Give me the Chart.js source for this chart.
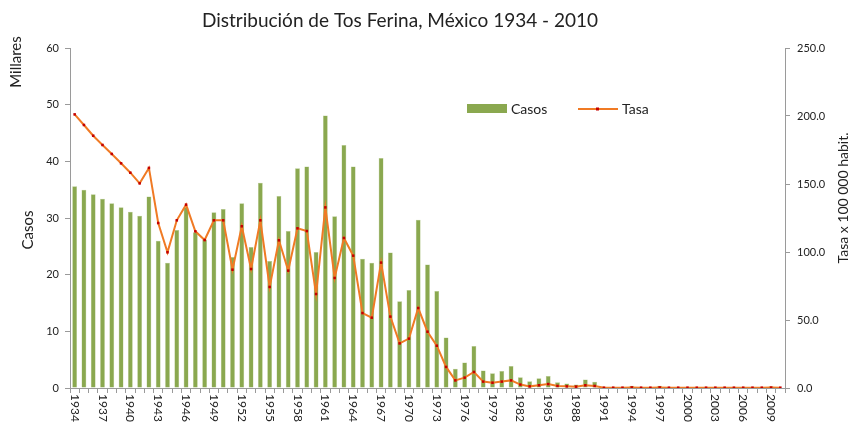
<!DOCTYPE html>
<html>
<head>
<meta charset="utf-8">
<script src="https://cdn.jsdelivr.net/npm/chart.js@4.4.1/dist/chart.umd.min.js"></script>
<style>
  body { margin: 0; background: #fff; }
  #wrap { width: 855px; height: 422px; }
</style>
</head>
<body>
<div id="wrap"><canvas id="tosChart" width="855" height="422"></canvas></div>
<script>
// years 1934 - 2010
const years = [];
for (let y = 1934; y <= 2010; y++) years.push(String(y));

// casos, in thousands
const casos = [
  35.6, 35.0, 34.2, 33.4, 32.6, 31.9, 31.1, 30.4, 33.8, 26.0,
  22.1, 27.9, 31.9, 27.5, 26.2, 31.0, 31.6, 23.1, 32.6, 24.9,
  36.2, 22.4, 33.9, 27.7, 38.8, 39.1, 24.0, 48.1, 30.3, 42.9,
  39.1, 22.8, 22.1, 40.6, 23.9, 15.3, 17.3, 29.7, 21.8, 17.1,
  8.9, 3.4, 4.5, 7.4, 3.1, 2.6, 3.0, 3.9, 1.9, 1.2,
  1.7, 2.1, 1.0, 0.8, 0.6, 1.5, 1.1, 0.1, 0.1, 0.1,
  0.4, 0.1, 0.1, 0.4, 0.1, 0.1, 0.1, 0.1, 0.1, 0.1,
  0.1, 0.1, 0.1, 0.1, 0.1, 0.3, 0.1
];

// tasa x 100 000 habitantes
const tasa = [
  201.2, 193.4, 185.5, 178.7, 172.1, 165.2, 158.3, 150.5, 161.8, 121.3,
  99.8, 123.3, 134.8, 115.2, 108.8, 123.3, 123.3, 87.0, 118.9, 87.5,
  123.3, 74.3, 108.6, 86.3, 117.4, 115.4, 69.1, 132.8, 80.9, 110.3,
  97.3, 55.1, 51.7, 92.2, 52.5, 32.8, 36.3, 58.8, 41.4, 31.1,
  15.5, 5.6, 7.6, 11.8, 4.7, 3.9, 4.7, 5.6, 2.5, 1.2,
  2.0, 2.9, 1.5, 1.2, 1.0, 2.0, 1.5, 0.2, 0.2, 0.2,
  0.4, 0.2, 0.2, 0.4, 0.2, 0.2, 0.2, 0.2, 0.2, 0.2,
  0.2, 0.2, 0.2, 0.2, 0.2, 0.3, 0.2
];

const leftTicks = [0, 10, 20, 30, 40, 50, 60];
const rightTicks = [0, 50, 100, 150, 200, 250];

const FONT = 'Lato, "Open Sans", sans-serif';
const GREEN = '#8aa84f';
const ORANGE = '#f07a24';
const RED = '#c40000';

// texts drawn around the plot
const textsPlugin = {
  id: 'texts',
  afterDraw(chart) {
    const ctx = chart.ctx;
    const x = chart.scales.x;
    ctx.save();
    ctx.fillStyle = '#222';

    // title
    ctx.font = '19px ' + FONT;
    ctx.textAlign = 'center';
    ctx.textBaseline = 'middle';
    ctx.fillText('Distribución de Tos Ferina, México 1934 - 2010', 400, 21);

    // axis titles
    ctx.font = '15px ' + FONT;
    ctx.save();
    ctx.translate(16, 62);
    ctx.rotate(-Math.PI / 2);
    ctx.fillText('Millares', 0, 0);
    ctx.restore();

    ctx.save();
    ctx.translate(28, 230);
    ctx.rotate(-Math.PI / 2);
    ctx.fillText('Casos', 0, 0);
    ctx.restore();

    ctx.font = '14px ' + FONT;
    ctx.save();
    ctx.translate(843, 198);
    ctx.rotate(-Math.PI / 2);
    ctx.fillText('Tasa x 100 000 habit.', 0, 0);
    ctx.restore();

    // x labels, every 3 years, rotated clockwise
    ctx.font = '12px ' + FONT;
    ctx.textAlign = 'left';
    years.forEach((yr, i) => {
      if (i % 3 !== 0) return;
      const px = x.getPixelForValue(i);
      ctx.save();
      ctx.translate(px, x.top + 6);
      ctx.rotate(Math.PI / 2);
      ctx.fillText(yr, 0, 0);
      ctx.restore();
    });

    // legend
    ctx.fillStyle = GREEN;
    ctx.fillRect(467, 104, 40, 9);
    ctx.fillStyle = '#222';
    ctx.font = '14px ' + FONT;
    ctx.textAlign = 'left';
    ctx.fillText('Casos', 511, 109);
    ctx.strokeStyle = ORANGE;
    ctx.lineWidth = 2;
    ctx.beginPath();
    ctx.moveTo(578, 109);
    ctx.lineTo(618, 109);
    ctx.stroke();
    ctx.fillStyle = RED;
    ctx.fillRect(596, 107.5, 3, 3);
    ctx.fillStyle = '#222';
    ctx.fillText('Tasa', 622, 109);

    ctx.restore();
  }
};

const ctx = document.getElementById('tosChart').getContext('2d');
new Chart(ctx, {
  data: {
    labels: years,
    datasets: [
      {
        type: 'line',
        label: 'Tasa',
        data: tasa,
        yAxisID: 'y1',
        borderColor: ORANGE,
        borderWidth: 2,
        pointStyle: 'rect',
        pointRadius: 1.8,
        pointBackgroundColor: RED,
        pointBorderColor: RED,
        pointBorderWidth: 0,
        tension: 0,
        order: 0
      },
      {
        type: 'bar',
        label: 'Casos',
        data: casos,
        yAxisID: 'y',
        backgroundColor: GREEN,
        borderColor: '#b5c98e',
        borderWidth: 0.5,
        barPercentage: 0.52,
        categoryPercentage: 1,
        order: 1
      }
    ]
  },
  options: {
    responsive: false,
    animation: false,
    events: [],
    layout: { padding: { top: 48, left: 0, right: 0, bottom: 0 } },
    plugins: {
      legend: { display: false },
      title: { display: false },
      tooltip: { enabled: false }
    },
    scales: {
      x: {
        grid: { drawOnChartArea: false, tickLength: 5, color: '#9a9a9a' },
        border: { color: '#9a9a9a' },
        ticks: { display: false, autoSkip: false },
        afterFit(scale) { scale.height = 34; }
      },
      y: {
        position: 'left',
        min: 0,
        max: 60,
        afterBuildTicks(scale) { scale.ticks = leftTicks.map(v => ({ value: v })); },
        grid: { drawOnChartArea: false, tickLength: 5, color: '#9a9a9a' },
        border: { color: '#9a9a9a' },
        ticks: { color: '#222', font: { family: FONT, size: 11 }, padding: 6 },
        afterFit(scale) { scale.width = 70; }
      },
      y1: {
        position: 'right',
        min: 0,
        max: 250,
        afterBuildTicks(scale) { scale.ticks = rightTicks.map(v => ({ value: v })); },
        grid: { drawOnChartArea: false, tickLength: 5, color: '#9a9a9a' },
        border: { color: '#9a9a9a' },
        ticks: {
          color: '#222',
          font: { family: FONT, size: 11 },
          padding: 7,
          callback: v => Number(v).toFixed(1)
        },
        afterFit(scale) { scale.width = 70; }
      }
    }
  },
  plugins: [textsPlugin]
});
</script>
</body>
</html>
